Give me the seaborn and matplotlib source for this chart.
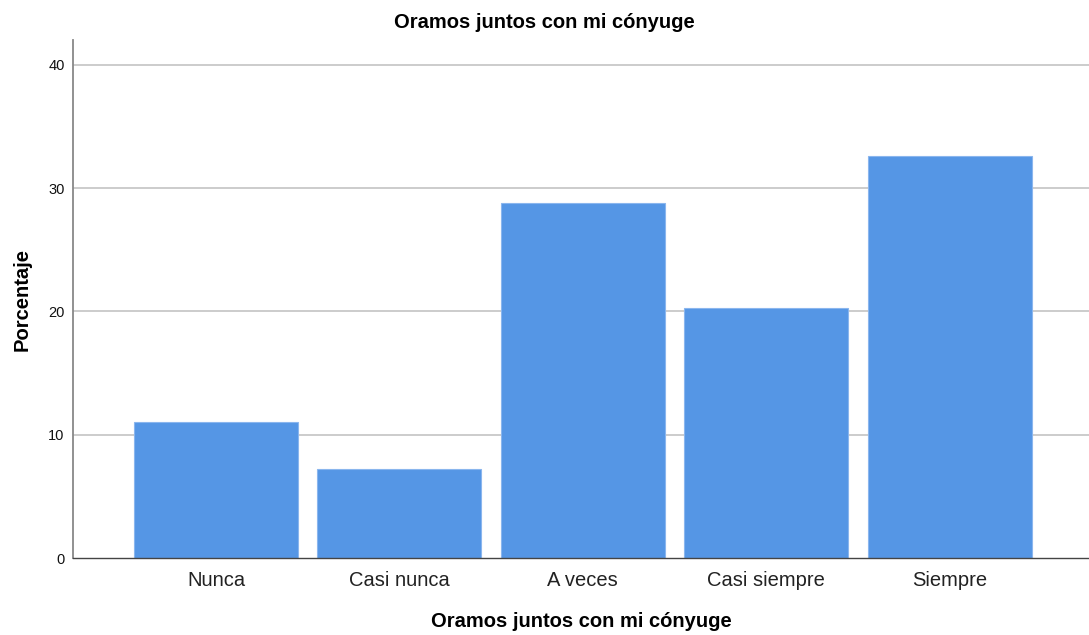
import numpy as np
import pandas as pd
import matplotlib
matplotlib.use("Agg")
import matplotlib.pyplot as plt
import seaborn as sns

categorias = ["Nunca", "Casi nunca", "A veces", "Casi siempre", "Siempre"]
porcentajes = [11.0, 7.2, 28.8, 20.3, 32.6]
yticks = [0, 10, 20, 30, 40]

df = pd.DataFrame({"Respuesta": categorias, "Porcentaje": porcentajes})

sns.set_style("white")
plt.rcParams['font.family'] = ['Liberation Sans', 'DejaVu Sans']

fig = plt.figure(figsize=(10.89, 6.35), dpi=100)
ax = fig.add_axes([0.067, 0.121, 0.933, 0.816])

# lineas de referencia bajo las barras
for t in yticks[1:]:
    ax.axhline(t, color="#c8c8c8", lw=1.3, zorder=0)

sns.barplot(data=df, x="Respuesta", y="Porcentaje", color="#5596e5",
            saturation=1, width=0.895, edgecolor="#8ab6ee", linewidth=0.8,
            ax=ax, zorder=2)

ax.set_ylim(0, 42)
ax.set_xlim(-0.78, 4.76)
ax.set_yticks(yticks)
ax.tick_params(axis="y", labelsize=10.5, length=0, pad=6, labelcolor="#111111")
ax.tick_params(axis="x", labelsize=14.5, length=0, pad=9, labelcolor="#222222")

for s in ["top", "right"]:
    ax.spines[s].set_visible(False)
ax.spines["left"].set_color("#888888")
ax.spines["left"].set_linewidth(1.3)
ax.spines["bottom"].set_color("#444444")
ax.spines["bottom"].set_linewidth(1.0)

fig.suptitle("Oramos juntos con mi cónyuge", fontsize=14.5, fontweight="bold",
             x=0.5, y=1 - 22 / 635, va="center", color="black")
ax.set_xlabel("Oramos juntos con mi cónyuge", fontsize=14.5, fontweight="bold",
              labelpad=16, color="black")
ax.set_ylabel("Porcentaje", fontsize=14.5, fontweight="bold", labelpad=12,
              color="black")

fig.savefig("out.png", dpi=100)
